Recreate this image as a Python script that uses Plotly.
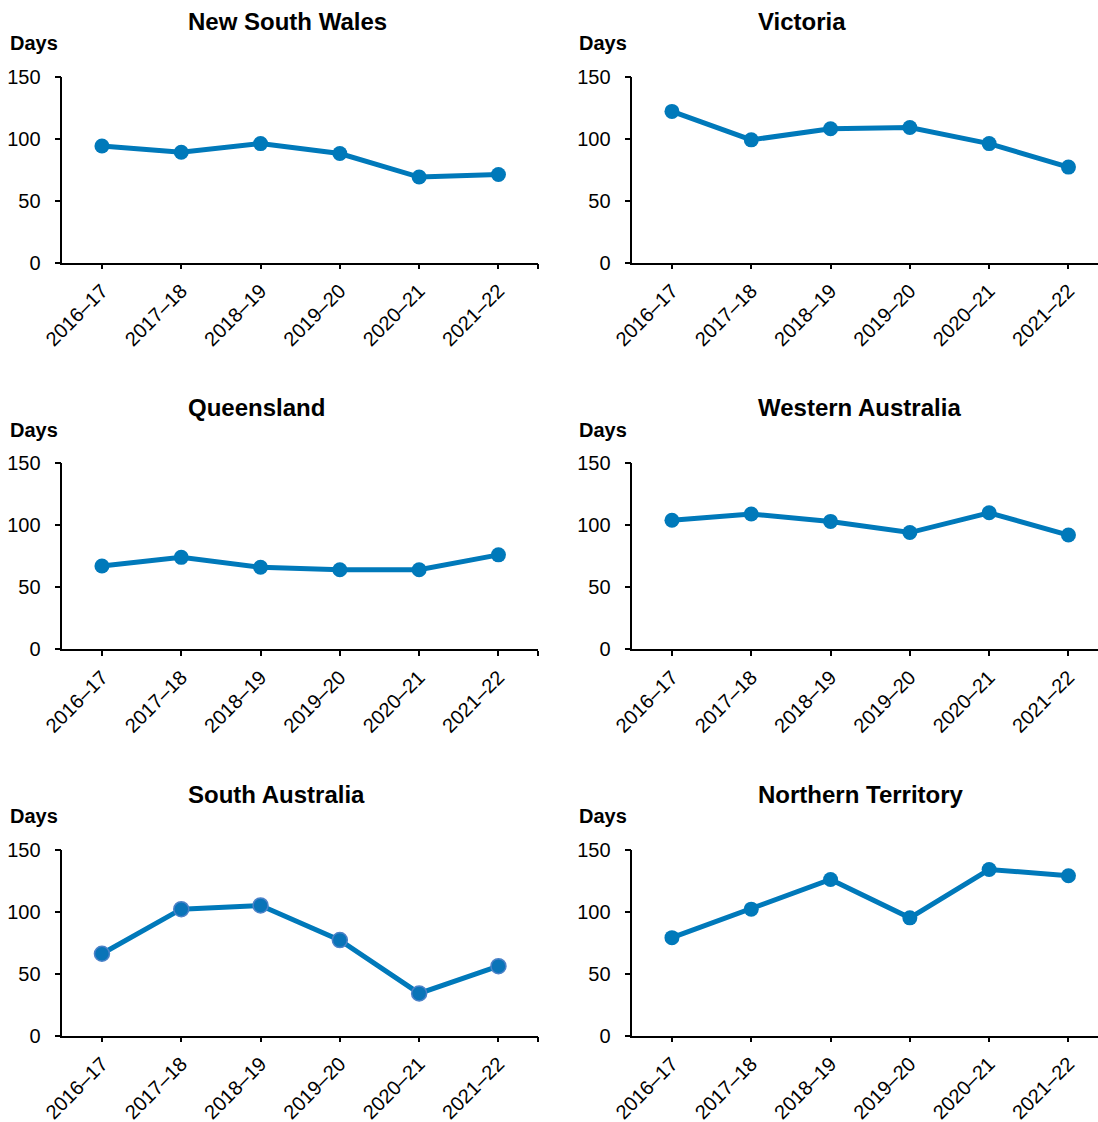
import plotly.graph_objects as go

W, H = 1098, 1122

years = ["2016–17", "2017–18", "2018–19", "2019–20", "2020–21", "2021–22"]

titles = ["New South Wales", "Victoria", "Queensland", "Western Australia",
          "South Australia", "Northern Territory"]

nsw = [94, 89, 96, 88, 69, 71]
vic = [122, 99, 108, 109, 96, 77]
qld = [67, 74, 66, 64, 64, 76]
wa = [104, 109, 103, 94, 110, 92]
sa = [66, 102, 105, 77, 34, 56]
nt = [79, 102, 126, 95, 134, 129]

series = [nsw, vic, qld, wa, sa, nt]

y_ticks = [0, 50, 100, 150]

BLUE = "#0079BA"
FONT = "Liberation Sans, Arial, sans-serif"


def px(x):
    return x / W


def py(y):
    return 1 - y / H


# layout geometry (pixels)
col_left = [62.3, 632.3]
spacing = 79.3
row_top = [76.7, 463.2, 849.7]
row_h = 185.8
title_x = [186, 756]
days_x = [8.2, 577.2]

fig = go.Figure()

for i, (vals, title) in enumerate(zip(series, titles)):
    r, c = divmod(i, 2)
    n = i + 1
    xa = "xaxis" if n == 1 else f"xaxis{n}"
    ya = "yaxis" if n == 1 else f"yaxis{n}"
    xr = "x" if n == 1 else f"x{n}"
    yr = "y" if n == 1 else f"y{n}"

    x0 = col_left[c]
    x1 = min(x0 + 6 * spacing, W)
    xmax = -0.5 + (x1 - x0) / spacing
    y0 = row_top[r]
    y1 = y0 + row_h

    marker = dict(size=15, color=BLUE)
    if title == "South Australia":
        marker = dict(size=15, color="#0A74B8",
                      line=dict(color="#4C82C8", width=1.5))

    fig.add_trace(go.Scatter(
        x=list(range(len(years))), y=vals,
        mode="lines+markers",
        line=dict(color=BLUE, width=5),
        marker=marker,
        xaxis=xr, yaxis=yr, showlegend=False,
        hovertemplate="%{y}<extra></extra>",
    ))

    fig.layout[xa] = dict(
        domain=[px(x0), px(x1)],
        anchor=yr,
        range=[-0.5, xmax],
        automargin=False,
        tickmode="array",
        tickvals=list(range(len(years))) + [5.5],
        ticktext=years + [""],
        tickangle=-45,
        showline=True, linecolor="black", linewidth=1.5,
        ticks="outside", ticklen=5, tickwidth=1.5, tickcolor="black",
        ticklabelstandoff=2,
        showgrid=False, zeroline=False,
        tickfont=dict(family=FONT, size=20, color="black"),
        fixedrange=True,
    )
    fig.layout[ya] = dict(
        domain=[py(y1), py(y0)],
        anchor=xr,
        range=[0, 150],
        automargin=False,
        tickmode="array",
        tickvals=y_ticks,
        showline=True, linecolor="black", linewidth=1.5,
        ticks="outside", ticklen=6, tickwidth=1.5, tickcolor="black",
        ticklabelstandoff=10,
        showgrid=False, zeroline=False,
        tickfont=dict(family=FONT, size=20, color="black"),
        fixedrange=True,
    )

    fig.add_annotation(
        text="<b>" + title + "</b>", xref="paper", yref="paper",
        x=px(title_x[c]), y=py(21.3 + 386.5 * r),
        xanchor="left", yanchor="middle", showarrow=False,
        font=dict(family=FONT, size=24, color="black"),
    )
    fig.add_annotation(
        text="<b>Days</b>", xref="paper", yref="paper",
        x=px(days_x[c]), y=py(43 + 386.5 * r),
        xanchor="left", yanchor="middle", showarrow=False,
        font=dict(family=FONT, size=20, color="black"),
    )

fig.update_layout(
    width=W, height=H,
    margin=dict(l=0, r=0, t=0, b=0, autoexpand=False),
    paper_bgcolor="white", plot_bgcolor="white",
    font=dict(family=FONT, color="black"),
)

fig.write_html(
    "out.html",
    config={"displayModeBar": False},
    post_script="document.body.style.margin='0';document.body.style.overflow='hidden';",
)
